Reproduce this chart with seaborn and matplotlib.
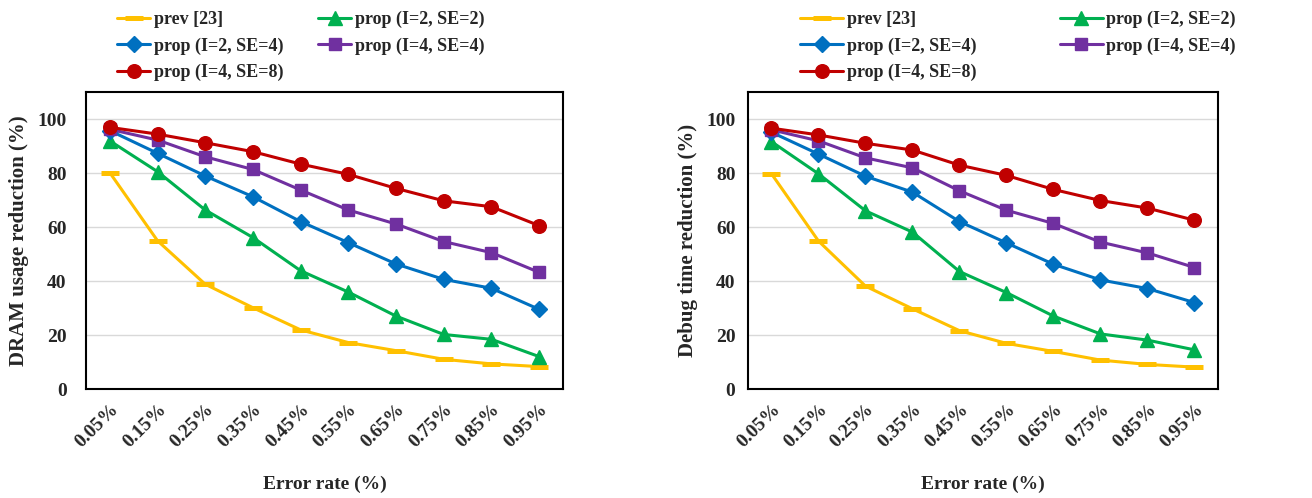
import matplotlib
matplotlib.use("Agg")
import matplotlib.pyplot as plt
import numpy as np
import pandas as pd
import seaborn as sns

rates = ["0.05%", "0.15%", "0.25%", "0.35%", "0.45%", "0.55%", "0.65%", "0.75%", "0.85%", "0.95%"]
series_names = ["prev [23]", "prop (I=2, SE=2)", "prop (I=2, SE=4)", "prop (I=4, SE=4)", "prop (I=4, SE=8)"]

# DRAM usage reduction (%)
dram_prev = [80.1, 54.9, 38.8, 30.1, 21.9, 17.2, 14.2, 11.0, 9.3, 8.3]
dram_i2_se2 = [91.9, 80.5, 66.3, 56.1, 43.8, 35.9, 27.0, 20.2, 18.4, 12.0]
dram_i2_se4 = [95.7, 87.3, 78.9, 71.2, 62.0, 54.2, 46.3, 40.6, 37.3, 29.5]
dram_i4_se4 = [96.2, 92.2, 86.0, 81.3, 73.7, 66.3, 61.1, 54.6, 50.5, 43.2]
dram_i4_se8 = [96.9, 94.4, 91.2, 87.9, 83.3, 79.5, 74.3, 69.7, 67.5, 60.5]

# Debug time reduction (%)
debug_prev = [79.7, 54.8, 38.1, 29.7, 21.6, 16.9, 13.9, 10.7, 9.1, 8.1]
debug_i2_se2 = [91.6, 79.7, 66.0, 58.1, 43.5, 35.7, 27.0, 20.4, 18.1, 14.5]
debug_i2_se4 = [95.1, 87.0, 78.8, 72.9, 62.0, 54.1, 46.2, 40.4, 37.2, 32.0]
debug_i4_se4 = [96.0, 91.9, 85.6, 81.9, 73.4, 66.2, 61.3, 54.4, 50.4, 45.0]
debug_i4_se8 = [96.6, 94.1, 91.0, 88.5, 82.9, 79.1, 73.9, 69.8, 67.0, 62.5]

colors = ["#FFC000", "#00B050", "#0070C0", "#7030A0", "#C00000"]
markers = ["_", "^", "D", "s", "o"]
msizes = [13, 9.5, 8, 8.5, 9.8]

sns.set_style("white")
plt.rcParams["font.family"] = ["Liberation Serif", "DejaVu Serif"]
plt.rcParams["font.weight"] = "bold"

W, H = 1312, 498
fig = plt.figure(figsize=(W / 100, H / 100), dpi=100)
ax1 = fig.add_axes([86 / W, 1 - 389 / H, 477 / W, 297 / H])
ax2 = fig.add_axes([748 / W, 1 - 389 / H, 470 / W, 297 / H])


def draw(ax, data, ylabel, leg_x, colspace, hlen, ypad):
    x = np.arange(len(rates))
    for name, vals, c, m, ms in zip(series_names, data, colors, markers, msizes):
        df = pd.DataFrame({"x": x, "y": vals})
        sns.lineplot(data=df, x="x", y="y", ax=ax, color=c, marker=m,
                     markersize=ms, linewidth=2.2, label=name,
                     markeredgecolor=c, markeredgewidth=3.6 if m == "_" else 1)
    ax.set_xlim(-0.5, len(rates) - 0.5)
    ax.set_ylim(0, 110)
    ax.set_yticks(range(0, 101, 20))
    ax.set_xticks(x)
    ax.set_xticks([-0.5, len(rates) - 0.5], minor=True)
    ax.set_xticklabels(rates, rotation=45, ha="right", rotation_mode="anchor",
                       fontsize=14, fontweight="bold")
    for lbl in ax.get_yticklabels():
        lbl.set_fontsize(14)
        lbl.set_fontweight("bold")
    ax.yaxis.grid(True, color="#d9d9d9", linewidth=1)
    ax.set_axisbelow(True)
    for s in ax.spines.values():
        s.set_color("black")
        s.set_linewidth(1.5)
    ax.tick_params(axis="x", which="both", direction="inout", length=9,
                   width=1.5, pad=4)
    ax.tick_params(axis="y", length=0, pad=ypad)
    ax.set_xlabel("Error rate (%)", fontsize=14, fontweight="bold", labelpad=18)
    ax.set_ylabel(ylabel, fontsize=15, fontweight="bold", labelpad=6)
    # row-wise legend order for two columns
    order = [0, 2, 4, 1, 3]
    h, l = ax.get_legend_handles_labels()
    ax.legend([h[i] for i in order], [l[i] for i in order], ncol=2,
              loc="upper left", bbox_to_anchor=(leg_x / W, 1 - 11 / H),
              bbox_transform=fig.transFigure, frameon=False,
              prop={"size": 13, "weight": "bold"}, handlelength=hlen,
              handletextpad=0.2, columnspacing=colspace, labelspacing=0.5,
              borderpad=0, borderaxespad=0)


draw(ax1, [dram_prev, dram_i2_se2, dram_i2_se4, dram_i4_se4, dram_i4_se8],
     "DRAM usage reduction (%)", 117, 1.9, 1.85, 14)
draw(ax2, [debug_prev, debug_i2_se2, debug_i2_se4, debug_i4_se4, debug_i4_se8],
     "Debug time reduction (%)", 800, 4.6, 2.4, 9)

fig.savefig("out.png", dpi=100)
